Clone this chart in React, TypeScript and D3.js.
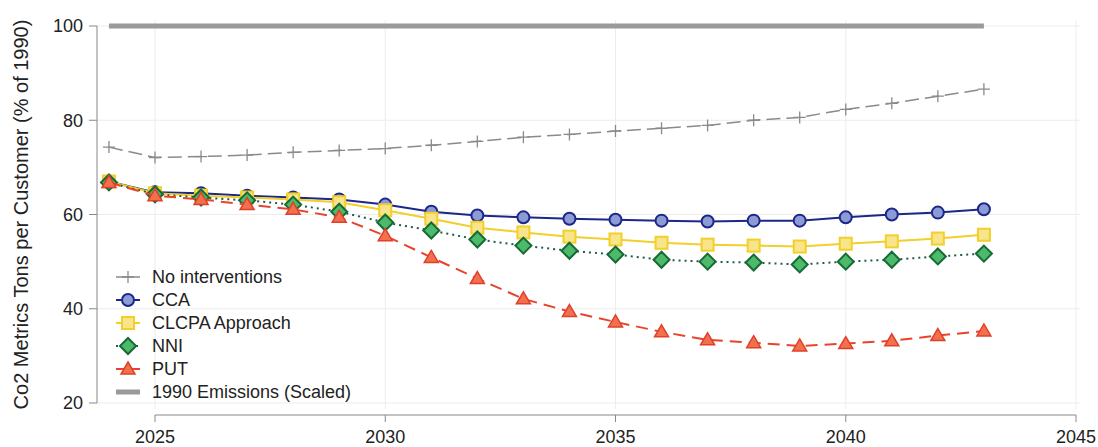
import React from "react";
import * as d3 from "d3";

const years = d3.range(2024, 2044);

const noInterventions = [74.3, 72.1, 72.3, 72.6, 73.2, 73.6, 74.0, 74.7, 75.5, 76.4, 77.0, 77.7, 78.3, 78.9, 80.0, 80.6, 82.3, 83.6, 85.1, 86.6];
const cca = [67.0, 64.7, 64.5, 64.0, 63.6, 63.2, 62.1, 60.6, 59.8, 59.4, 59.1, 58.9, 58.7, 58.5, 58.7, 58.7, 59.4, 60.0, 60.4, 61.1];
const clcpa = [67.0, 64.5, 64.0, 63.6, 63.2, 62.6, 60.9, 59.1, 57.2, 56.2, 55.3, 54.7, 54.0, 53.6, 53.4, 53.2, 53.8, 54.3, 54.9, 55.7];
const nni = [66.8, 64.3, 63.6, 63.0, 62.1, 60.6, 58.3, 56.6, 54.7, 53.4, 52.3, 51.5, 50.4, 50.0, 49.8, 49.4, 50.0, 50.4, 51.1, 51.7];
const put = [66.8, 64.0, 63.2, 62.1, 61.1, 59.4, 55.5, 50.9, 46.4, 42.1, 39.4, 37.2, 35.1, 33.4, 32.8, 32.1, 32.6, 33.2, 34.3, 35.3];
const emissions1990 = years.map(() => 100);

const xTicks = [2025, 2030, 2035, 2040, 2045];
const yTicks = [20, 40, 60, 80, 100];

type Marker = "plus" | "circle" | "square" | "diamond" | "triangle" | "none";
interface Series {
  name: string;
  values: number[];
  stroke: string;
  width: number;
  dash: string;
  marker: Marker;
  markerStroke: string;
  markerFill: string;
}

const series: Series[] = [
  { name: "1990 Emissions (Scaled)", values: emissions1990, stroke: "#9a9a9a", width: 5, dash: "", marker: "none", markerStroke: "", markerFill: "" },
  { name: "No interventions", values: noInterventions, stroke: "#8a8a8a", width: 1.5, dash: "14 6", marker: "plus", markerStroke: "#8a8a8a", markerFill: "none" },
  { name: "CCA", values: cca, stroke: "#1c2787", width: 2, dash: "", marker: "circle", markerStroke: "#1c2787", markerFill: "#8c9ad6" },
  { name: "CLCPA Approach", values: clcpa, stroke: "#f2cf2a", width: 2, dash: "", marker: "square", markerStroke: "#f2cf2a", markerFill: "#f8e48a" },
  { name: "NNI", values: nni, stroke: "#1d5c4a", width: 2, dash: "2 4", marker: "diamond", markerStroke: "#166b34", markerFill: "#4dba6b" },
  { name: "PUT", values: put, stroke: "#e8442c", width: 2, dash: "12 7", marker: "triangle", markerStroke: "#e0402a", markerFill: "#f2704e" },
];

const legendOrder = ["No interventions", "CCA", "CLCPA Approach", "NNI", "PUT", "1990 Emissions (Scaled)"];

const W = 1098;
const H = 447;
const x = d3.scaleLinear().domain([2025, 2045]).range([155, 1076]);
const y = d3.scaleLinear().domain([20, 100]).range([403, 26]);
const font = "'Liberation Sans', Arial, sans-serif";
const axisY = 415;

function MarkerShape({ kind, cx, cy, stroke, fill }: { kind: Marker; cx: number; cy: number; stroke: string; fill: string }) {
  switch (kind) {
    case "plus":
      return <path d={`M${cx - 6},${cy}H${cx + 6}M${cx},${cy - 6}V${cy + 6}`} stroke={stroke} strokeWidth={1.3} fill="none" />;
    case "circle":
      return <circle cx={cx} cy={cy} r={6} stroke={stroke} strokeWidth={2} fill={fill} />;
    case "square":
      return <rect x={cx - 6} y={cy - 6} width={12} height={12} stroke={stroke} strokeWidth={2} fill={fill} />;
    case "diamond":
      return <path d={`M${cx},${cy - 8}L${cx + 8},${cy}L${cx},${cy + 8}L${cx - 8},${cy}Z`} stroke={stroke} strokeWidth={2} fill={fill} />;
    case "triangle":
      return <path d={`M${cx},${cy - 7}L${cx + 7},${cy + 5}L${cx - 7},${cy + 5}Z`} stroke={stroke} strokeWidth={1.5} fill={fill} />;
    default:
      return null;
  }
}

export default function App() {
  const line = d3
    .line<number>()
    .x((_, i) => x(years[i]))
    .y((v) => y(v));

  return (
    <svg width={W} height={H} style={{ position: "absolute", left: 0, top: 0, background: "#fff" }} fontFamily={font}>
      {/* grid */}
      {yTicks.map((t) => (
        <line key={`gy${t}`} x1={97} x2={1080} y1={y(t)} y2={y(t)} stroke="#ececec" strokeWidth={1} />
      ))}
      {xTicks.map((t) => (
        <line key={`gx${t}`} x1={x(t)} x2={x(t)} y1={20} y2={axisY - 6} stroke="#ececec" strokeWidth={1} />
      ))}

      {/* y axis */}
      <line x1={97} x2={97} y1={y(100)} y2={y(20)} stroke="#888" strokeWidth={1} />
      {yTicks.map((t) => (
        <g key={`ty${t}`}>
          <line x1={89} x2={97} y1={y(t)} y2={y(t)} stroke="#888" />
          <text x={83} y={y(t)} dy="0.35em" textAnchor="end" fontSize={18} fill="#222">
            {t}
          </text>
        </g>
      ))}
      <text transform={`translate(28,${y(60)}) rotate(-90)`} textAnchor="middle" fontSize={20} fill="#222">
        Co2 Metrics Tons per Customer (% of 1990)
      </text>

      {/* x axis */}
      <line x1={x(2025)} x2={x(2045)} y1={axisY} y2={axisY} stroke="#888" strokeWidth={1} />
      {xTicks.map((t) => (
        <g key={`tx${t}`}>
          <line x1={x(t)} x2={x(t)} y1={axisY} y2={axisY + 7} stroke="#888" />
          <text x={x(t)} y={443} textAnchor="middle" fontSize={18} fill="#222">
            {t}
          </text>
        </g>
      ))}

      {/* series lines and markers */}
      {series.map((s) => (
        <g key={s.name}>
          <path d={line(s.values) ?? ""} stroke={s.stroke} strokeWidth={s.width} strokeDasharray={s.dash} fill="none" />
          {s.marker !== "none" &&
            s.values.map((v, i) => (
              <MarkerShape key={i} kind={s.marker} cx={x(years[i])} cy={y(v)} stroke={s.markerStroke} fill={s.markerFill} />
            ))}
        </g>
      ))}

      {/* legend */}
      {legendOrder.map((name, i) => {
        const s = series.find((d) => d.name === name)!;
        const ly = 277 + i * 23;
        return (
          <g key={`lg${name}`}>
            <line x1={116} x2={140} y1={ly} y2={ly} stroke={s.stroke} strokeWidth={s.marker === "none" ? 5 : s.width} strokeDasharray={s.marker === "diamond" ? "2 3" : ""} />
            {s.marker !== "none" && <MarkerShape kind={s.marker} cx={128} cy={ly} stroke={s.markerStroke} fill={s.markerFill} />}
            <text x={152} y={ly} dy="0.35em" fontSize={18} fill="#222">
              {name}
            </text>
          </g>
        );
      })}
    </svg>
  );
}
